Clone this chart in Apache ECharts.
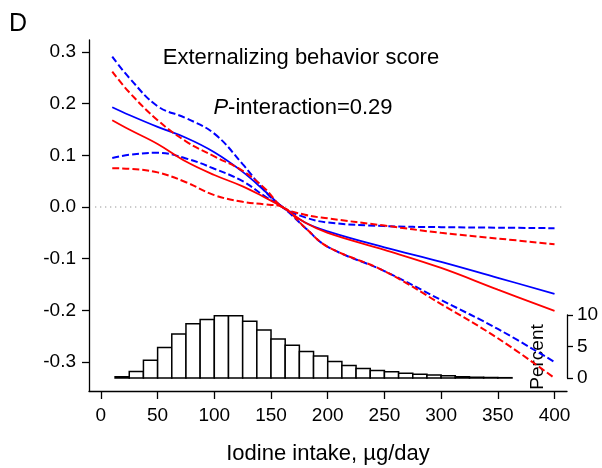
<!DOCTYPE html>
<html>
<head>
<meta charset="utf-8">
<script src="https://cdn.jsdelivr.net/npm/echarts@6/dist/echarts.min.js"></script>
<style>html,body{margin:0;padding:0;background:#fff}#c{width:602px;height:468px}</style>
</head>
<body>
<div id="c"></div>
<script>
// ---- data ----
const xKnots = [10, 25, 50, 75, 100, 125, 145, 160, 180, 200, 250, 300, 350, 400];
const blueFit   = [0.193, 0.178, 0.155, 0.134, 0.106, 0.068, 0.030, 0, -0.030, -0.047, -0.078, -0.106, -0.137, -0.168];
const blueUpper = [0.291, 0.250, 0.195, 0.172, 0.142, 0.083, 0.030, 0, -0.020, -0.030, -0.037, -0.039, -0.040, -0.041];
const blueLower = [0.095, 0.101, 0.105, 0.094, 0.074, 0.050, 0.020, 0, -0.040, -0.077, -0.124, -0.180, -0.236, -0.300];
const redFit    = [0.168, 0.150, 0.122, 0.088, 0.062, 0.040, 0.018, 0, -0.030, -0.050, -0.083, -0.118, -0.160, -0.201];
const redUpper  = [0.262, 0.222, 0.168, 0.127, 0.098, 0.070, 0.035, 0, -0.015, -0.022, -0.036, -0.050, -0.061, -0.072];
const redLower  = [0.075, 0.074, 0.067, 0.048, 0.023, 0.010, 0.005, 0, -0.040, -0.077, -0.124, -0.188, -0.254, -0.331];

const binWidth = 12.5;
const binStarts = [12.5, 25, 37.5, 50, 62.5, 75, 87.5, 100, 112.5, 125, 137.5, 150, 162.5, 175, 187.5, 200, 212.5, 225, 237.5, 250, 262.5, 275, 287.5, 300, 312.5, 325, 337.5, 350];
const binPercent = [0.2, 1.05, 2.8, 4.85, 7.0, 8.6, 9.3, 9.9, 9.9, 9.0, 7.6, 6.2, 5.2, 4.2, 3.5, 2.6, 2.0, 1.5, 1.2, 1.0, 0.74, 0.58, 0.47, 0.37, 0.2, 0.12, 0.08, 0.05];

const xTicks = [0, 50, 100, 150, 200, 250, 300, 350, 400];
const yTicks = [-0.3, -0.2, -0.1, 0.0, 0.1, 0.2, 0.3];

const titleText = 'Externalizing behavior score';
const xName = 'Iodine intake, µg/day';
const panelLetter = 'D';

// ---- chart ----
const FONT = '"Liberation Sans", Arial, sans-serif';
const chart = echarts.init(document.getElementById('c'), null, {renderer: 'canvas'});
const zip = (xs, ys) => xs.map((x, i) => [x, ys[i]]);
const lineSeries = (data, color, dashed) => ({
  type: 'line', xAxisIndex: 0, yAxisIndex: 0,
  data: data, smooth: 0.4, showSymbol: false, symbol: 'none',
  lineStyle: {color: color, width: dashed ? 2 : 1.8, type: dashed ? [7, 3] : 'solid'},
  silent: true, animation: false
});

chart.setOption({
  animation: false,
  backgroundColor: '#fff',
  textStyle: {fontFamily: FONT},
  grid: [
    {left: 89, right: 35, top: 40, bottom: 77, containLabel: false, outerBoundsMode: 'none'},
    {left: 89, right: 35, top: 315, bottom: 90, containLabel: false, outerBoundsMode: 'none'}
  ],
  xAxis: [
    {
      type: 'value', gridIndex: 0, min: -10.5, max: 411,
      name: xName, nameLocation: 'middle', nameGap: 52,
      nameTextStyle: {fontSize: 22, color: '#000', fontFamily: FONT},
      splitLine: {show: false},
      axisLine: {show: true, onZero: false, lineStyle: {color: '#000', width: 1.3}},
      axisTick: {show: true, length: 8, customValues: xTicks, lineStyle: {color: '#000', width: 1.3}},
      axisLabel: {customValues: xTicks, fontSize: 19, color: '#000', margin: 15, fontFamily: FONT}
    },
    {
      type: 'value', gridIndex: 1, min: -10.5, max: 411, show: false,
      axisLine: {onZero: false}
    }
  ],
  yAxis: [
    {
      type: 'value', gridIndex: 0, min: -0.3561, max: 0.3232,
      splitLine: {show: false},
      axisLine: {show: true, onZero: false, lineStyle: {color: '#000', width: 1.3}},
      axisTick: {show: true, length: 7, customValues: yTicks, lineStyle: {color: '#000', width: 1.3}},
      axisLabel: {customValues: yTicks, fontSize: 19, color: '#000', margin: 13, fontFamily: FONT,
        formatter: v => Number(v).toFixed(1)}
    },
    {
      type: 'value', gridIndex: 1, position: 'right', min: 0, max: 10, interval: 5,
      splitLine: {show: false},
      axisLine: {show: true, onZero: false, lineStyle: {color: '#000', width: 1.3}},
      axisTick: {show: true, length: 6, lineStyle: {color: '#000', width: 1.3}},
      axisLabel: {fontSize: 19, color: '#000', margin: 10, fontFamily: FONT}
    }
  ],
  series: [
    {
      type: 'line', xAxisIndex: 0, yAxisIndex: 0, data: [[-5, 0], [409, 0]],
      showSymbol: false, symbol: 'none', silent: true,
      lineStyle: {color: '#777', width: 1, type: [1, 4]}
    },
    {
      type: 'custom', xAxisIndex: 1, yAxisIndex: 1,
      data: binStarts.map((s, i) => [s, s + binWidth, binPercent[i]]),
      encode: {x: [0, 1], y: 2},
      renderItem: function (params, api) {
        const p0 = api.coord([api.value(0), api.value(2)]);
        const p1 = api.coord([api.value(1), 0]);
        return {
          type: 'rect',
          shape: {x: p0[0], y: p0[1], width: p1[0] - p0[0], height: p1[1] - p0[1]},
          style: {fill: '#fff', stroke: '#000', lineWidth: 1.5}
        };
      },
      silent: true
    },
    lineSeries(zip(xKnots, blueUpper), '#0000ff', true),
    lineSeries(zip(xKnots, blueLower), '#0000ff', true),
    lineSeries(zip(xKnots, blueFit), '#0000ff', false),
    lineSeries(zip(xKnots, redUpper), '#ff0000', true),
    lineSeries(zip(xKnots, redLower), '#ff0000', true),
    lineSeries(zip(xKnots, redFit), '#ff0000', false)
  ],
  graphic: [
    {type: 'text', x: 9, y: 24, style: {text: panelLetter, font: '25px ' + FONT, fill: '#000', textAlign: 'left', textVerticalAlign: 'middle'}},
    {type: 'text', x: 301, y: 58, style: {text: titleText, font: '22px ' + FONT, fill: '#000', textAlign: 'center', textVerticalAlign: 'middle'}},
    {type: 'text', x: 303, y: 108, style: {
      text: '{i|P}{n|-interaction=0.29}', textAlign: 'center', textVerticalAlign: 'middle',
      rich: {i: {font: 'italic 22px ' + FONT, fill: '#000'}, n: {font: '22px ' + FONT, fill: '#000'}}
    }},
    {type: 'text', x: 538, y: 357, rotation: Math.PI / 2, style: {text: 'Percent', font: '19px ' + FONT, fill: '#000', textAlign: 'center', textVerticalAlign: 'middle'}}
  ]
});
</script>
</body>
</html>
